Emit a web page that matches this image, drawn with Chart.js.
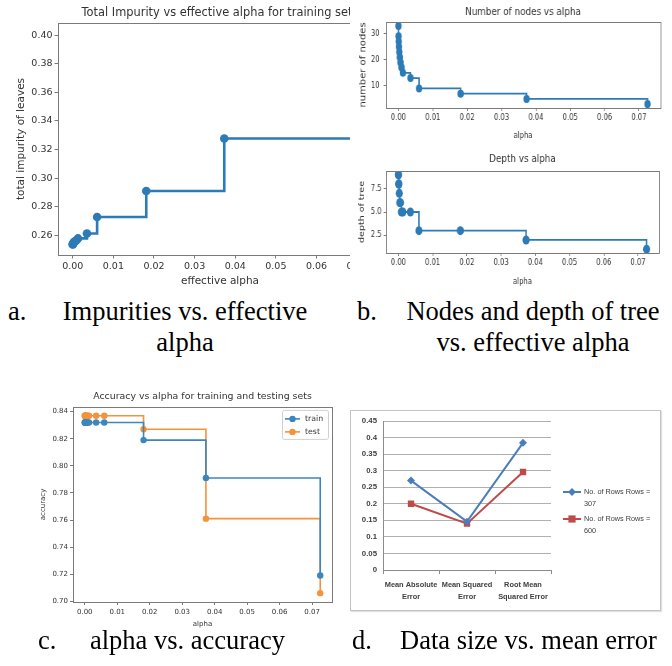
<!DOCTYPE html>
<html>
<head>
<meta charset="utf-8">
<script src="https://cdn.jsdelivr.net/npm/chart.js@4.4.1/dist/chart.umd.min.js"></script>
<style>
  html, body { margin: 0; padding: 0; background: #fff; }
  body { width: 672px; height: 666px; position: relative; overflow: hidden; }
  .panel { position: absolute; overflow: hidden; }
  .panel canvas { position: absolute; left: 0; top: 0; }
  .panel canvas.squeeze { transform: scaleX(0.8); transform-origin: 0 0; }
  .xl { border: 1px solid #c4c4c4; box-shadow: 1px 1px 1px rgba(0,0,0,0.12); }
  .cap { position: absolute; font-family: "Liberation Serif", "Times New Roman", serif;
         font-size: 26.5px; line-height: 31px; color: #000; white-space: nowrap; }
  .cap.block { text-align: center; }
</style>
</head>
<body>

<div class="panel" style="left:0;top:0;width:350px;height:295px"><canvas id="cImp" width="400" height="295"></canvas></div>
<div class="panel" style="left:355px;top:0;width:317px;height:142px"><canvas id="cNodes" class="squeeze" width="396" height="142"></canvas></div>
<div class="panel" style="left:355px;top:142px;width:317px;height:150px"><canvas id="cDepth" class="squeeze" width="396" height="150"></canvas></div>
<div class="panel" style="left:20px;top:385px;width:330px;height:245px"><canvas id="cAcc" width="330" height="245"></canvas></div>
<div class="panel xl" style="left:350px;top:410px;width:309px;height:199px"><canvas id="cErr" width="309" height="199"></canvas></div>

<div class="cap" style="left:8px;top:296px">a.</div>
<div class="cap block" style="left:35px;top:296px;width:300px">Impurities vs. effective<br>alpha</div>
<div class="cap" style="left:357px;top:296px">b.</div>
<div class="cap block" style="left:383px;top:296px;width:300px">Nodes and depth of tree<br>vs. effective alpha</div>
<div class="cap" style="left:38px;top:625px">c.</div>
<div class="cap" style="left:90px;top:625px">alpha vs. accuracy</div>
<div class="cap" style="left:352px;top:625px">d.</div>
<div class="cap" style="left:400px;top:625px">Data size vs. mean error</div>

<script>
// pruning path (panels a, b, c share the same alphas)
const ccpAlphas   = [0, 0.00003, 0.00008, 0.00015, 0.00025, 0.0004, 0.0006, 0.0009, 0.0013, 0.0035, 0.006, 0.0181, 0.0373, 0.0725];
const impurities  = [0.2536, 0.2538, 0.2541, 0.2545, 0.2549, 0.2553, 0.2558, 0.2565, 0.2578, 0.2612, 0.2728, 0.2910, 0.3277, 0.4011];
const nodeCounts  = [33, 29, 27, 25, 23, 21, 19, 17, 15, 13, 9, 7, 5, 3];
const treeDepths  = [9, 9, 8, 8, 7, 6, 6, 5, 5, 5, 3, 3, 2, 1];
const trainScores = [0.832, 0.832, 0.832, 0.832, 0.832, 0.832, 0.832, 0.832, 0.832, 0.832, 0.832, 0.819, 0.791, 0.719];
const testScores  = [0.837, 0.837, 0.837, 0.837, 0.837, 0.837, 0.837, 0.837, 0.837, 0.837, 0.837, 0.827, 0.761, 0.706];

// panel d
const errorNames = [['Mean Absolute', 'Error'], ['Mean Squared', 'Error'], ['Root Mean', 'Squared Error']];
const rows307    = [0.270, 0.146, 0.384];
const rows600    = [0.200, 0.140, 0.296];

const MPL   = "'DejaVu Sans', sans-serif";
const XLF   = "'Liberation Sans', Arial, sans-serif";
const INK   = '#333';
const SPINE = '#7a7a7a';
const BLUE  = '#2c7bb6';
const ORANGE = '#f5923a';

function pts(ys) {
  return ccpAlphas.map((x, i) => ({ x: x, y: ys[i] }));
}

// box around the axes, like matplotlib spines
const mplFrame = {
  id: 'mplFrame',
  afterDraw(chart) {
    const a = chart.chartArea, ctx = chart.ctx;
    ctx.save();
    ctx.strokeStyle = SPINE;
    ctx.lineWidth = 1;
    ctx.strokeRect(Math.round(a.left) + 0.5, Math.round(a.top) + 0.5,
                   Math.round(a.right - a.left), Math.round(a.bottom - a.top));
    ctx.restore();
  }
};

// legend inside the axes, top right (panel c)
const boxLegend = {
  id: 'boxLegend',
  afterDraw(chart) {
    const ctx = chart.ctx, a = chart.chartArea;
    const w = 46, h = 29;
    const x0 = a.right - 4 - w, y0 = a.top + 3;
    ctx.save();
    ctx.fillStyle = 'rgba(255,255,255,0.85)';
    ctx.strokeStyle = '#d0d0d0';
    ctx.lineWidth = 1;
    ctx.beginPath();
    if (ctx.roundRect) ctx.roundRect(x0 + 0.5, y0 + 0.5, w, h, 2); else ctx.rect(x0 + 0.5, y0 + 0.5, w, h);
    ctx.fill(); ctx.stroke();
    chart.data.datasets.forEach((ds, i) => {
      const y = y0 + 9 + i * 13;
      ctx.strokeStyle = ds.borderColor;
      ctx.lineWidth = ds.borderWidth;
      ctx.beginPath(); ctx.moveTo(x0 + 3, y); ctx.lineTo(x0 + 18, y); ctx.stroke();
      ctx.fillStyle = ds.borderColor;
      ctx.beginPath(); ctx.arc(x0 + 10.5, y, ds.pointRadius, 0, Math.PI * 2); ctx.fill();
      ctx.fillStyle = INK;
      ctx.font = '7.8px ' + MPL;
      ctx.textBaseline = 'middle';
      ctx.fillText(ds.label, x0 + 23, y);
    });
    ctx.restore();
  }
};

function mplPanel(id, o) {
  const tickFont = { family: MPL, size: o.tick };
  const lblFont = { family: MPL, size: o.label };
  return new Chart(document.getElementById(id), {
    type: 'line',
    data: {
      datasets: o.sets.map(s => ({
        label: s.label,
        data: pts(s.values),
        stepped: true,
        borderColor: s.color,
        backgroundColor: s.color,
        borderWidth: s.width,
        pointRadius: s.radius,
        pointBackgroundColor: s.color,
        pointBorderWidth: 0,
        fill: false
      }))
    },
    options: {
      responsive: false,
      animation: false,
      events: [],
      layout: { padding: { left: 0, top: 0, bottom: 0, right: o.padR } },
      plugins: {
        legend: { display: false },
        tooltip: { enabled: false },
        title: {
          display: true, text: o.title, fullSize: false, color: INK,
          font: { family: MPL, size: o.titleSize, weight: 'normal' },
          padding: o.titlePad
        }
      },
      scales: {
        x: {
          type: 'linear', min: o.x[0], max: o.x[1],
          afterFit: s => { s.height = o.xh; s.paddingLeft = 0; s.paddingRight = 0; },
          border: { display: false },
          grid: { drawOnChartArea: false, drawTicks: true, tickLength: o.tl, color: SPINE },
          ticks: {
            stepSize: 0.01, includeBounds: false, autoSkip: false, maxRotation: 0,
            padding: o.xtp, color: INK, font: tickFont, callback: v => v.toFixed(2)
          },
          title: { display: true, text: o.xlabel, color: INK, font: lblFont, padding: { top: 0, bottom: o.xlp } }
        },
        y: {
          type: 'linear', min: o.y[0], max: o.y[1],
          afterFit: s => { s.width = o.yw; s.paddingTop = 0; s.paddingBottom = 0; },
          border: { display: false },
          grid: { drawOnChartArea: false, drawTicks: true, tickLength: o.tl, color: SPINE },
          ticks: {
            stepSize: o.ystep, includeBounds: false, autoSkip: false,
            padding: o.ytp, color: INK, font: tickFont, callback: v => v.toFixed(o.ydec)
          },
          title: { display: true, text: o.ylabel, color: INK, font: { family: MPL, size: o.ylabelSize || o.label },
                   padding: { top: o.ylp, bottom: 0 } }
        }
      }
    },
    plugins: [mplFrame].concat(o.extra || [])
  });
}

const X_LIM = [-0.003625, 0.076125];

// a. impurity
mplPanel('cImp', {
  title: 'Total Impurity vs effective alpha for training sets',
  titleSize: 11.4, titlePad: { top: 6, bottom: 3.3 },
  tick: 9.5, label: 10.5, tl: 3.5,
  xlabel: 'effective alpha', ylabel: 'total impurity of leaves',
  x: X_LIM, y: [0.2462, 0.4085], ystep: 0.02, ydec: 2,
  yw: 58, xh: 40, padR: 18, xtp: 2, xlp: 7.7, ytp: 2, ylp: 14.7,
  sets: [{ label: 'impurity', values: impurities, color: BLUE, width: 2.6, radius: 4.3 }]
});

// b. nodes (canvas squeezed horizontally to 0.8, so x sizes are in canvas units)
mplPanel('cNodes', {
  title: 'Number of nodes vs alpha',
  titleSize: 11, titlePad: { top: 5.4, bottom: 3.4 },
  tick: 8.5, label: 8.5, ylabelSize: 10, tl: 3,
  xlabel: 'alpha', ylabel: 'number of nodes',
  x: X_LIM, y: [1.5, 34.5], ystep: 10, ydec: 0,
  yw: 38.75, xh: 34, padR: 14.75, xtp: 1.9, xlp: 0.9, ytp: 5, ylp: 4,
  sets: [{ label: 'nodes', values: nodeCounts, color: BLUE, width: 1.8, radius: 4 }]
});

// b. depth
mplPanel('cDepth', {
  title: 'Depth vs alpha',
  titleSize: 11, titlePad: { top: 10.4, bottom: 5.4 },
  tick: 8.5, label: 8.5, ylabelSize: 9.5, tl: 3,
  xlabel: 'alpha', ylabel: 'depth of tree',
  x: X_LIM, y: [0.6, 9.4], ystep: 2.5, ydec: 1,
  yw: 38.75, xh: 39, padR: 16, xtp: 1.9, xlp: 4.9, ytp: 2.5, ylp: 3,
  sets: [{ label: 'depth', values: treeDepths, color: BLUE, width: 1.8, radius: 4.5 }]
});

// c. accuracy
mplPanel('cAcc', {
  title: 'Accuracy vs alpha for training and testing sets',
  titleSize: 9.4, titlePad: { top: 6.3, bottom: 4.3 },
  tick: 7, label: 7, tl: 3,
  xlabel: 'alpha', ylabel: 'accuracy',
  x: X_LIM, y: [0.69945, 0.84355], ystep: 0.02, ydec: 2,
  yw: 53, xh: 28, padR: 18, xtp: 2.5, xlp: 1.8, ytp: 2, ylp: 19,
  sets: [
    { label: 'train', values: trainScores, color: '#3b86bd', width: 1.6, radius: 3.2 },
    { label: 'test', values: testScores, color: ORANGE, width: 1.6, radius: 3.2 }
  ],
  extra: [boxLegend]
});

// d. legend on the right with wrapped labels
const sideLegend = {
  id: 'sideLegend',
  afterDraw(chart) {
    const ctx = chart.ctx, a = chart.chartArea;
    const xs = a.right + 12;
    ctx.save();
    chart.data.datasets.forEach((ds, i) => {
      const y = 81 + i * 27;
      ctx.strokeStyle = ds.borderColor;
      ctx.lineWidth = 2;
      ctx.beginPath(); ctx.moveTo(xs, y); ctx.lineTo(xs + 18, y); ctx.stroke();
      ctx.fillStyle = ds.borderColor;
      const cx = xs + 9, r = ds.pointRadius;
      ctx.beginPath();
      if (ds.pointStyle === 'rectRot') {
        ctx.moveTo(cx, y - r); ctx.lineTo(cx + r, y); ctx.lineTo(cx, y + r); ctx.lineTo(cx - r, y); ctx.closePath();
      } else {
        ctx.rect(cx - r * 0.8, y - r * 0.8, r * 1.6, r * 1.6);
      }
      ctx.fill();
      ctx.fillStyle = '#404040';
      ctx.font = '7.3px ' + XLF;
      ctx.textBaseline = 'middle';
      ds.label.forEach((t, j) => ctx.fillText(t, xs + 21, y + j * 11.5));
    });
    ctx.restore();
  }
};

new Chart(document.getElementById('cErr'), {
  type: 'line',
  data: {
    labels: errorNames,
    datasets: [
      { label: ['No. of Rows Rows =', '307'], data: rows307, borderColor: '#4a7ebb', backgroundColor: '#4a7ebb',
        borderWidth: 2, pointStyle: 'rectRot', pointRadius: 4, pointBackgroundColor: '#4a7ebb', pointBorderWidth: 0, tension: 0 },
      { label: ['No. of Rows Rows =', '600'], data: rows600, borderColor: '#be4b48', backgroundColor: '#be4b48',
        borderWidth: 2, pointStyle: 'rect', pointRadius: 4.5, pointBackgroundColor: '#be4b48', pointBorderWidth: 0, tension: 0 }
    ]
  },
  options: {
    responsive: false,
    animation: false,
    events: [],
    layout: { padding: { left: 0, top: 10, bottom: 0, right: 109 } },
    plugins: { legend: { display: false }, tooltip: { enabled: false } },
    scales: {
      x: {
        offset: true,
        afterFit: s => { s.height = 40; s.paddingLeft = 0; s.paddingRight = 0; },
        border: { display: true, color: '#8c8c8c' },
        grid: { offset: true, drawOnChartArea: false, drawTicks: true, tickLength: 4, color: '#8c8c8c' },
        ticks: { autoSkip: false, maxRotation: 0, padding: 5, color: '#404040',
                 font: { family: XLF, size: 7.4, weight: 'bold', lineHeight: 1.6 } }
      },
      y: {
        min: 0, max: 0.45,
        afterFit: s => { s.width = 32; s.paddingTop = 0; s.paddingBottom = 0; },
        border: { display: true, color: '#8c8c8c' },
        grid: { color: '#b0b0b0', drawTicks: false },
        ticks: { stepSize: 0.05, padding: 6, color: '#404040',
                 font: { family: XLF, size: 7.8, weight: 'bold' },
                 callback: v => String(Math.round(v * 100) / 100) }
      }
    }
  },
  plugins: [sideLegend]
});
</script>
</body>
</html>
